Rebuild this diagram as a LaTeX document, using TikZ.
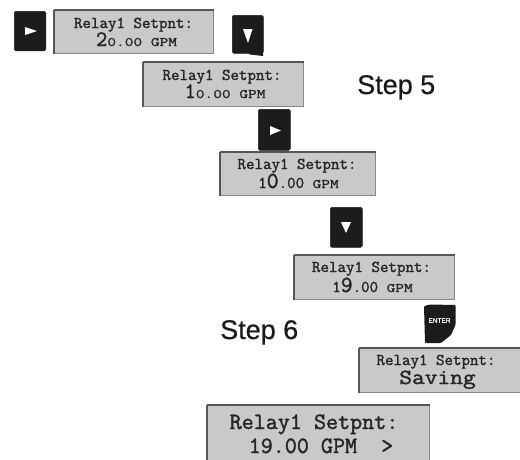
\documentclass[tikz,border=0pt]{standalone}
\usepackage{fontspec}
\setmainfont{Liberation Sans}[FakeBold=0.5]
\setmonofont{Latin Modern Mono}[FakeBold=1.6]
\newfontfamily\widemono{Latin Modern Mono}[FakeStretch=1.3,FakeBold=1.6]
\newfontfamily\midmono{Latin Modern Mono}[FakeStretch=1.15,FakeBold=1.6]
\definecolor{lcd}{HTML}{C9C9C9}
\definecolor{rimc}{HTML}{555555}
\definecolor{btn}{HTML}{1C1C1C}
\newcommand{\fs}[1]{\fontsize{#1}{#1}\selectfont}
\tikzset{
  lcdbox/.style={fill=lcd,draw=rimc!70,line width=0.8pt,inner sep=0pt,anchor=north west},
  keycap/.style={fill=btn,draw=btn,line width=0.5pt,rounded corners=1.5pt,inner sep=0pt,anchor=north west},
  arrowmark/.style={fill=white,draw=none},
  lcdtext/.style={inner sep=0pt,text=black!85,anchor=base,font=\ttfamily},
  steplabel/.style={inner sep=0pt,font=\fs{27},text=black!90,anchor=base west},
  rimtop/.style={draw=rimc,line width=2pt},
  rimleft/.style={draw=rimc,line width=1.8pt}
}
\newcommand{\lcdframe}[5]{% name x1 y1 x2 y2
  \pgfmathsetmacro{\boxw}{#4-#2}\pgfmathsetmacro{\boxh}{#5-#3}
  \node[lcdbox,minimum width=\boxw pt,minimum height=\boxh pt] (#1) at (#2,#3) {};
  \draw[rimtop] (#1.north west) -- (#1.north east);
  \draw[rimleft] (#1.north west) -- (#1.south west);
}
\newcommand{\keyframe}[5]{%
  \pgfmathsetmacro{\boxw}{#4-#2}\pgfmathsetmacro{\boxh}{#5-#3}
  \node[keycap,minimum width=\boxw pt,minimum height=\boxh pt] (#1) at (#2,#3) {};
}
\newcommand{\smallrest}[1]{{\widemono\fs{13}#1}}
\begin{document}
\begin{tikzpicture}[x=1pt,y=-1pt]
\useasboundingbox (0,0) rectangle (520,459);
% row 1
\keyframe{k1}{14}{11}{45.5}{50.5}
\fill[arrowmark] (25,27) -- (37,31) -- (25,35) -- cycle;
\lcdframe{b1}{54}{10}{213}{53}
\node[lcdtext,font=\ttfamily\fs{16.5}] (t1a) at (133.5,28) {Relay1 Setpnt:};
\node[lcdtext,font=\ttfamily\fs{22}] (t1b) at (136.5,46) {2\smallrest{0.00 GPM}};
\keyframe{k2}{232}{15}{263}{53}
\fill[btn] (247,52) -- (263,52) -- (263,56) -- (250,54.5) -- cycle;
\fill[arrowmark] (243,29) -- (252.5,29) -- (248,43) -- cycle;
% row 2
\lcdframe{b2}{143}{62}{303}{106}
\node[lcdtext,font=\ttfamily\fs{16.5}] (t2a) at (222,80) {Relay1 Setpnt:};
\node[lcdtext,font=\ttfamily\fs{22}] (t2b) at (225,98) {1\smallrest{0.00 GPM}};
\node[steplabel] (s5) at (357,94) {Step 5};
\keyframe{k3}{258}{109}{290}{150}
\fill[arrowmark] (270,126) -- (281,130.5) -- (270,135) -- cycle;
% row 3
\lcdframe{b3}{220}{152}{375}{195}
\node[lcdtext,font=\ttfamily\fs{16.5}] (t3a) at (297,169) {Relay1 Setpnt:};
\node[lcdtext,font=\ttfamily\fs{16.5}] (t3b) at (298.5,188) {1{\fs{23}0}.00 \smallrest{GPM}};
\keyframe{k4}{330}{207}{362}{247}
\fill[arrowmark] (341,222) -- (351,222) -- (346,233) -- cycle;
% row 4
\lcdframe{b4}{294}{255}{454}{299}
\node[lcdtext,font=\ttfamily\fs{16.5}] (t4a) at (371.5,272) {Relay1 Setpnt:};
\node[lcdtext,font=\ttfamily\fs{16.5}] (t4b) at (372.5,292) {1{\fs{23}9}.00 \smallrest{GPM}};
\node[steplabel] (s6) at (220,339) {Step 6};
% enter key
\fill[btn,rounded corners=1pt] (424,306) -- (430,304.5) -- (455.5,305) -- (455.5,325) -- (451,335) -- (441,343) -- (425,343) -- cycle;
\node[inner sep=0pt,text=white,font=\fs{6.5}] (e5) at (439.5,320.5) {ENTER};
\lcdframe{b5}{359}{348}{520}{392}
\node[lcdtext,font=\ttfamily\fs{16.5}] (t5a) at (436,365) {Relay1 Setpnt:};
\node[lcdtext,font=\midmono\fs{21.5}] (t5b) at (437.5,384) {Saving};
\lcdframe{b6}{207}{405}{429}{470}
\node[lcdtext,font=\ttfamily\fs{23.4}] (t6a) at (314,429) {Relay1 Setpnt:};
\node[lcdtext,font=\ttfamily\fs{23.4}] (t6b) at (321,453) {19.00 GPM\ \ >};
\end{tikzpicture}
\end{document}
